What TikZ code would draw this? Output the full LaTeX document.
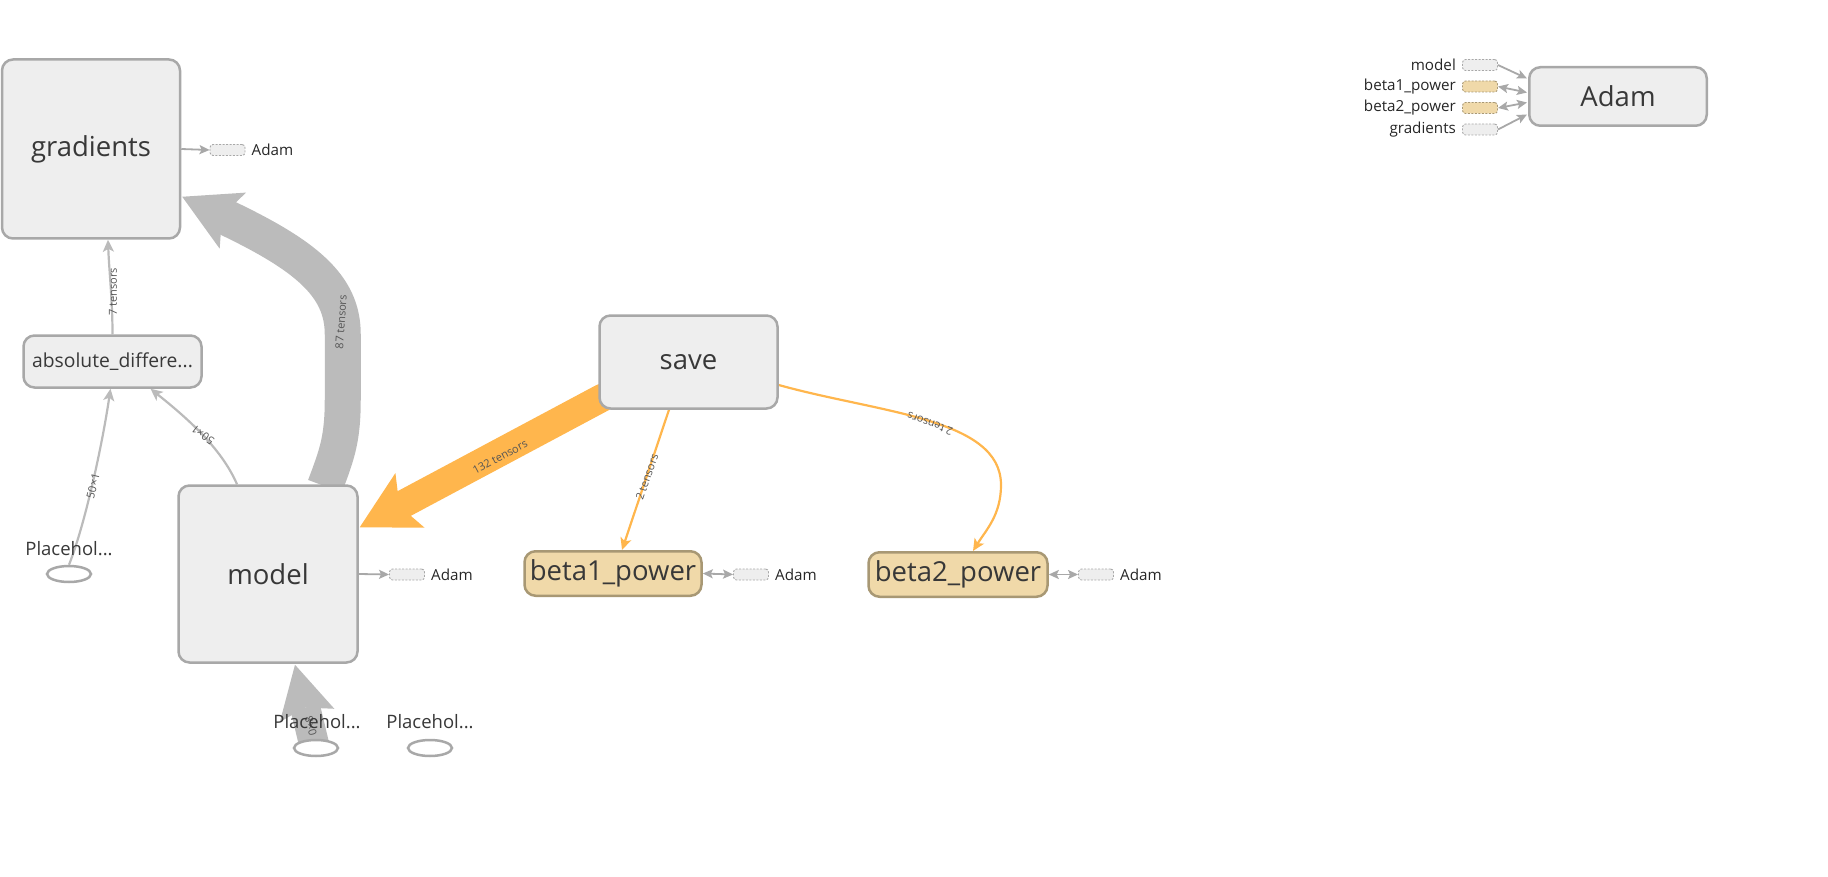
\documentclass[tikz,border=0pt]{standalone}
\usepackage{fontspec}
\setmainfont{Open Sans}
\usetikzlibrary{arrows.meta,shapes.geometric,calc,backgrounds,positioning}
\definecolor{boxfill}{HTML}{EEEEEE}
\definecolor{boxline}{HTML}{A8A8A8}
\definecolor{txt}{HTML}{383838}
\definecolor{tanfill}{HTML}{F0D9A9}
\definecolor{tanline}{HTML}{A89874}
\definecolor{orng}{HTML}{FFB64D}
\definecolor{thickgray}{HTML}{BBBBBB}
\definecolor{stubline}{HTML}{A8A8A8}
\definecolor{lblgray}{HTML}{555555}
\begin{document}
\begin{tikzpicture}[x=1pt,y=-1pt,
 opbox/.style={draw=boxline, fill=boxfill, line width=2.5pt, rounded corners=11pt, text=txt, inner sep=0pt, font=\fontsize{27.5}{31}\selectfont},
 tanbox/.style={opbox, draw=tanline, fill=tanfill},
 stub/.style={draw=stubline, fill=boxfill, line width=0.9pt, dash pattern=on 2pt off 1.5pt, rounded corners=3pt, minimum width=35pt, minimum height=11pt, inner sep=0pt},
 tanstub/.style={stub, fill=tanfill, draw=tanline},
 adamlbl/.style={font=\fontsize{15.2}{17}\selectfont, text=black!85, inner sep=0pt},
 phell/.style={ellipse, draw=boxline, fill=white, line width=2.5pt, minimum width=44pt, minimum height=16pt, inner sep=0pt},
 phtext/.style={font=\fontsize{18.5}{21}\selectfont, text=txt, inner sep=0pt},
 elabel/.style={font=\fontsize{11}{12}\selectfont, text=lblgray, inner sep=0pt},
 thinedge/.style={draw=thickgray, line width=2.2pt, -{Stealth[length=12pt,width=11pt,inset=3pt]}},
 thinor/.style={draw=orng, line width=2.2pt, -{Stealth[length=12pt,width=11pt,inset=3pt]}},
 stubarrow/.style={draw=stubline, line width=1.8pt, -{Stealth[length=10pt,width=9pt,inset=2pt]}},
 stubdbl/.style={draw=stubline, line width=1.8pt, {Stealth[length=10pt,width=9pt,inset=2pt]}-{Stealth[length=10pt,width=9pt,inset=2pt]}},
]
\useasboundingbox (0,0) rectangle (1828,877);

% main op nodes
\node[opbox, minimum width=178, minimum height=179] (grad) at (91,149) {gradients};
\node[opbox, minimum width=178, minimum height=52, font=\fontsize{19.3}{22}\selectfont] (absd) at (112.5,361.5) {absolute\_differe...};
\node[opbox, minimum width=179, minimum height=177] (model) at (268,574) {model};
\node[opbox, minimum width=178, minimum height=93] (save) at (688.5,362) {save};
\node[tanbox, minimum width=177, minimum height=44.5] (b1) at (613,573.5) {beta1\_power};
\node[tanbox, minimum width=179, minimum height=44.5] (b2) at (958,574.5) {beta2\_power};
\node[opbox, minimum width=177.5, minimum height=58.5] (adam) at (1618,96.5) {Adam};

% stubs
\node[stub] (gstub) at (227.5,150) {};
\node[adamlbl, right=6pt of gstub] (gstubl) {Adam};
\node[stub] (mstub) at (407,574.5) {};
\node[adamlbl, right=6pt of mstub] (mstubl) {Adam};
\node[stub] (b1stub) at (751,574.5) {};
\node[adamlbl, right=6pt of b1stub] (b1stubl) {Adam};
\node[stub] (b2stub) at (1096,574.5) {};
\node[adamlbl, right=6pt of b2stub] (b2stubl) {Adam};

\node[stub] (ain1) at (1480,65) {};
\node[adamlbl, left=6pt of ain1] (ain1l) {model};
\node[tanstub] (ain2) at (1480,86.5) {};
\node[adamlbl, left=6pt of ain2] (ain2l) {beta1\_power};
\node[tanstub] (ain3) at (1480,108) {};
\node[adamlbl, left=6pt of ain3] (ain3l) {beta2\_power};
\node[stub] (ain4) at (1480,129.5) {};
\node[adamlbl, left=6pt of ain4] (ain4l) {gradients};

% placeholders
\node[phell] (ph1) at (69,574) {};
\node[phtext] (ph1t) at (69,549) {Placehol...};
\node[phell] (ph2) at (316,748) {};
\node[phtext] (ph2t) at (317,722) {Placehol...};
\node[phell] (ph3) at (430,748) {};
\node[phtext] (ph3t) at (430,722) {Placehol...};

\begin{scope}[on background layer]
% 87 tensors: model -> gradients
\draw[draw=thickgray, line width=36pt, -{Stealth[length=56pt,width=62pt,inset=12pt,line width=0pt]}]
  ($(model.north)+(57,2)$) .. controls ($(model.north)+(69,-30)$) and ($(model.north east)+(-16,-45)$) ..
  ($(model.north east)+(-16,-85)$) -- ($(model.north east)+(-16,-150)$)
  .. controls ($(model.north east)+(-16,-199)$) and ($(grad.south east)+(124,15)$) ..
  ($(grad.south east)+(1,-43)$);
\node[elabel, rotate=86] (l87) at (341,322) {87 tensors};

% 132 tensors: save -> model
\draw[draw=orng, line width=28pt, line cap=round, -{Stealth[length=57pt,width=62pt,inset=12pt,line width=0pt]}]
  ($(save.south west)+(4,-12)$) -- ($(model.north east)+(1,43)$);
\node[elabel, rotate=28] (l132) at (500,457) {132 tensors};

% placeholder -> model (thick)
\draw[draw=thickgray, line width=30pt, -{Stealth[length=52pt,width=56pt,inset=8pt,line width=0pt]}]
  ($(ph2.center)+(-2,-4)$) -- ($(model.south)+(27,1)$);
\node[elabel, rotate=105] (l08) at (311,726) {0×8};

% absdiff -> gradients
\draw[thinedge] (absd.north) .. controls ($(absd.north)+(0,-35)$) and ($(grad.south)+(18,30)$) .. ($(grad.south)+(17,0)$);
\node[elabel, rotate=90] (l7) at (113,292) {7 tensors};

% placeholder1 -> absdiff
\draw[thinedge] (ph1.north) .. controls ($(ph1.north)+(16,-40)$) and ($(absd.south)+(-10,55)$) .. ($(absd.south)+(-2,0)$);
\node[elabel, rotate=76] (l501) at (93,486) {50×1};

% model -> absdiff
\draw[thinedge] ($(model.north)+(-31,0)$) .. controls ($(model.north)+(-47,-37)$) and ($(absd.south)+(73,28)$) .. ($(absd.south)+(38,0)$);
\node[elabel, rotate=142] (l502) at (203,435) {50×1};

% save -> beta1
\draw[thinor] ($(save.south)+(-19.5,0)$) -- ($(b1.north)+(9,0)$);
\node[elabel, rotate=71] (l2a) at (647,477) {2 tensors};

% save -> beta2
\coordinate (bend) at (1001,485);
\draw[thinor] ($(save.east)+(0,23)$) .. controls (879,413) and (1001,418) .. (bend)
  .. controls (1001,515) and ($(b2.north)+(28,-21)$) .. ($(b2.north)+(15,0)$);
\node[elabel, rotate=160] (l2b) at (930,424) {2 tensors};

% stub connectors
\draw[stubarrow] (grad.east) -- (gstub.west);
\draw[stubarrow] (model.east) -- (mstub.west);
\draw[stubdbl] (b1.east) -- (b1stub.west);
\draw[stubdbl] (b2.east) -- (b2stub.west);
\draw[stubarrow] (ain1.east) -- ($(adam.west)+(-1,-18)$);
\draw[stubdbl] (ain2.east) -- ($(adam.west)+(-1,-4)$);
\draw[stubdbl] (ain3.east) -- ($(adam.west)+(-1,6)$);
\draw[stubarrow] (ain4.east) -- ($(adam.west)+(-1,18)$);
\end{scope}
\end{tikzpicture}
\end{document}
